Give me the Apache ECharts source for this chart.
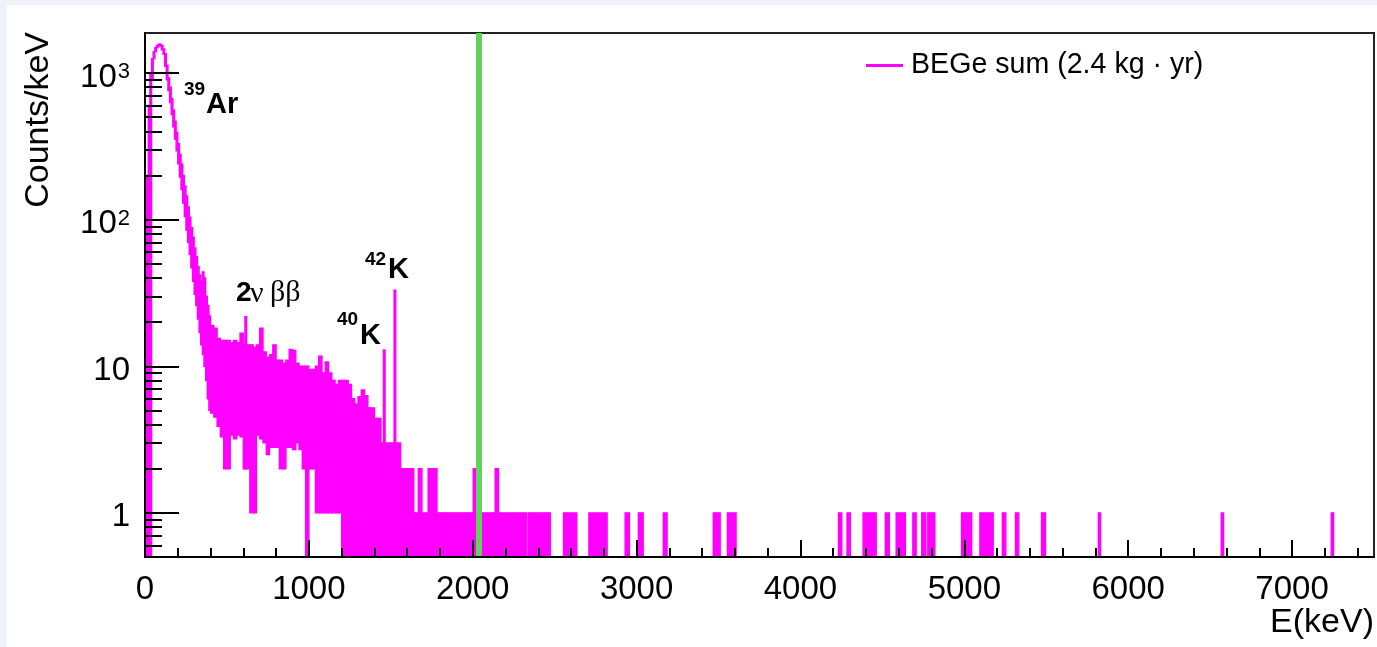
<!DOCTYPE html>
<html>
<head>
<meta charset="utf-8">
<script src="https://cdn.jsdelivr.net/npm/echarts@6/dist/echarts.min.js"></script>
<style>
html,body{margin:0;padding:0;background:#eef3fb;}
#c{width:1377px;height:647px;}
</style>
</head>
<body>
<div id="c"></div>
<script>
// ---------------- data ----------------
const seriesName = 'BEGe sum (2.4 kg \u00b7 yr)';
// Dense part of the spectrum: for every energy slice [edge_i, edge_i+1] (keV)
// the largest and smallest bin content (counts/keV) seen in the figure.
const sliceEdges = [0,10,20,30,40,50,60,70,80,90,100,110,120,130,140,150,160,170,180,190,200,
  210,220,230,240,250,260,270,280,290,300,310,320,330,340,350,360,370,380,390,400,
  420,440,460,480,500,520,540,560,580,600,610,620,640,660,680,700,720,740,760,780,800,
  820,840,860,880,900,920,940,960,980,1000,1020,1040,1060,1080,1100,1120,1140,1160,1180,1200,
  1220,1240,1260,1280,1300,1320,1340,1360,1380,1400,1420,1440,1455,1465,1520,1530,1560,
  1640,1668,1690,1728,1782,2003,2023,2127];
const sliceMax = [0,200,600,1000,1250,1400,1490,1545,1570,1570,1540,1460,1360,1130,930,800,670,560,470,395,
  330,280,240,200,170,145,122,104,88,76,64,56,48,42,38,44,40,30,26,22,
  19,18.2,15.5,15,15,15,14.5,15,14.5,16.8,14,21.8,14,14,13.5,14,18.2,12.5,11.5,12,14,
  11,11,10.5,11,13,12.8,10.5,10,10,10,9.5,9.5,10,11.7,9,10.7,9,8,7.5,8,
  8,8,7.5,6,5.5,6.2,6.9,6.3,5.2,5.2,4.4,4.4,3,12.9,3,33,3,
  2,1,2,1,2,1,2,1];
const sliceMin = [0,0,0,0,900,1250,1400,1490,1535,1530,1440,1340,1110,900,760,630,520,430,355,295,
  240,195,160,130,105,85,70,58,47,38,31,26,21,17,14,12,10,8,6,5,
  4.8,4.5,3.9,3.3,2,2,3.4,3.2,3.4,3.3,2,2,2,1,1,3.4,3.2,3,2.5,2.8,2.8,
  2.8,2,2,2.8,2.8,2.7,3,2.7,2,0,2,2,1,1,1,1,1,1,1,1,
  0,0,0,0,0,0,0,0,0,0,0,0,0,0,0,0,0,
  0,0,0,0,0,0,0,0];
// Sparse part: groups of non-empty bins [start, end] (keV) and their content
const groupStart = [2127,2137,2157,2236,2305,2340,2405,2554,2709,2930,3011,3163,3468,3554,
  4232,4284,4382,4518,4584,4686,4740,4777,4983,5095,5232,5312,5471,5818,6568,7239];
const groupEnd   = [2137,2157,2230,2300,2330,2400,2473,2635,2820,2956,3040,3186,3510,3607,
  4252,4304,4462,4542,4640,4706,4765,4820,5045,5176,5253,5332,5495,5831,6582,7253];
const groupMax   = [1,2,1,1,1,1,1,1,1,1,1,1,1,1,
  1,1,1,1,1,1,1,1,1,1,1,1,1,1,1,1];
const qbb = 2039;                       // Q_bb of 76Ge (green line)
const xTickValues = [0,1000,2000,3000,4000,5000,6000,7000];
const xTickLabels = ['0','1000','2000','3000','4000','5000','6000','7000'];
const xMinorTicks = [];
for (let e = 200; e < 7500; e += 200) if (e % 1000) xMinorTicks.push(e);
const yTickValues = [1,10,100,1000];
const yTickLabels = ['1','10','10{sup|2}','10{sup|3}'];
const yMinorTicks = [0.6,0.7,0.8,0.9,2,3,4,5,6,7,8,9,20,30,40,50,60,70,80,90,200,300,400,500,600,700,800,900];

// ---------------- chart ----------------
const X_MIN = 0, X_MAX = 7500, Y_MIN = 0.5, Y_MAX = 1875;
const MAGENTA = '#ff00ff', GREEN = '#62d35a';
const FONT = '"Liberation Sans", Arial, Helvetica, sans-serif';
const SERIF = '"Liberation Serif", "Times New Roman", serif';

const rows = [[X_MIN, X_MAX, 0, 0]];   // empty bins lie on the frame bottom
for (let i = 0; i < sliceMax.length; i++) rows.push([sliceEdges[i], sliceEdges[i+1], sliceMin[i], sliceMax[i]]);
for (let i = 0; i < groupStart.length; i++) rows.push([groupStart[i], groupEnd[i], 0, groupMax[i]]);

function renderItem(params, api) {
  const lo = Math.max(api.value(2), Y_MIN), hi = Math.max(api.value(3), Y_MIN);
  const p0 = api.coord([api.value(0), hi]);
  const p1 = api.coord([api.value(1), lo]);
  let x = p0[0], w = p1[0] - p0[0];
  if (w < 1.5) { x -= (1.5 - w) / 2; w = 1.5; }
  return {type: 'rect', shape: {x: x, y: p0[1], width: w, height: p1[1] - p0[1]},
          style: {fill: MAGENTA, stroke: MAGENTA, lineWidth: 1.4}};
}

const chart = echarts.init(document.getElementById('c'), null, {renderer: 'canvas'});
const txt = (t, x, y, size, bold, fam) => ({type: 'text', x: x, y: y, z: 50,
  style: {text: t, font: (bold ? 'bold ' : '') + size + 'px ' + (fam || FONT), fill: '#000', align: 'left', verticalAlign: 'middle'}});

chart.setOption({
  backgroundColor: '#eef3fb',
  animation: false,
  grid: {left: 145, top: 33, right: 2, bottom: 90, show: true, borderColor: '#222', borderWidth: 2, backgroundColor: 'transparent'},
  legend: {
    data: [{name: seriesName, icon: 'rect'}],
    left: 866, top: 51, padding: 0, itemWidth: 37, itemHeight: 3,
    itemStyle: {color: MAGENTA},
    textStyle: {fontSize: 28.6, fontFamily: FONT, color: '#000', padding: [0, 0, 8, 3]}
  },
  xAxis: [{
    type: 'value', min: X_MIN, max: X_MAX, z: 5,
    name: 'E(keV)', nameLocation: 'end', nameGap: 0,
    nameTextStyle: {fontSize: 34, fontFamily: FONT, color: '#000', align: 'right', verticalAlign: 'top', padding: [49, 0, 0, 0]},
    axisLine: {show: true, onZero: false, lineStyle: {color: '#000', width: 2}},
    axisTick: {show: true, inside: true, length: 17, customValues: xTickValues, lineStyle: {color: '#000', width: 2}},
    axisLabel: {show: true, customValues: xTickValues, color: '#000', fontSize: 33, fontFamily: FONT, margin: 16,
      formatter: v => xTickLabels[xTickValues.indexOf(Math.round(v))] || ''},
    splitLine: {show: false}
  }, {
    type: 'value', min: X_MIN, max: X_MAX, position: 'bottom', z: 5,
    axisLine: {show: false},
    axisTick: {show: true, inside: true, length: 9, customValues: xMinorTicks, lineStyle: {color: '#000', width: 2}},
    axisLabel: {show: false}, splitLine: {show: false}
  }],
  yAxis: [{
    type: 'log', logBase: 10, min: Y_MIN, max: Y_MAX, z: 5,
    axisLine: {show: true, onZero: false, lineStyle: {color: '#000', width: 2}},
    axisTick: {show: true, inside: true, length: 34, customValues: yTickValues, lineStyle: {color: '#000', width: 2}},
    axisLabel: {show: true, customValues: yTickValues, color: '#000', fontSize: 33, fontFamily: FONT, margin: 15,
      padding: [9, 0, 0, 0],
      formatter: v => yTickLabels[yTickValues.indexOf(Math.round(v))] || '',
      rich: {sup: {fontSize: 22, fontFamily: FONT, color: '#000', verticalAlign: 'top', padding: [0, 0, 0, 1]}}},
    splitLine: {show: false}
  }, {
    type: 'log', logBase: 10, min: Y_MIN, max: Y_MAX, position: 'left', z: 5,
    axisLine: {show: false},
    axisTick: {show: true, inside: true, length: 17, customValues: yMinorTicks, lineStyle: {color: '#000', width: 2}},
    axisLabel: {show: false}, splitLine: {show: false}
  }],
  graphic: [
    {type: 'rect', shape: {x: 7, y: 5, width: 1370, height: 642}, style: {fill: '#ffffff'}, z: -10, silent: true},
    {type: 'text', x: 39, y: 32, rotation: Math.PI / 2, z: 50,
     style: {text: 'Counts/keV', font: '34px ' + FONT, fill: '#000', align: 'right', verticalAlign: 'middle'}},
    txt('39', 184, 90, 19, true), txt('Ar', 206, 104.5, 29, true),
    txt('2', 236, 293, 28, true), txt('\u03bd', 250, 294, 30, false, SERIF), txt('\u03b2\u03b2', 270, 293, 30, false, SERIF),
    txt('40', 337, 320, 19, true), txt('K', 360, 336, 29, true),
    txt('42', 365, 260, 19, true), txt('K', 388, 270, 29, true)
  ],
  series: [{
    name: seriesName, type: 'custom', renderItem: renderItem, clip: false, z: 3,
    xAxisIndex: 0, yAxisIndex: 0,
    itemStyle: {color: MAGENTA},
    encode: {x: [0, 1], y: [2, 3]},
    data: rows
  }, {
    name: 'Qbb', type: 'line', xAxisIndex: 0, yAxisIndex: 0, data: [], z: 4,
    markLine: {silent: true, symbol: ['none', 'none'], label: {show: false},
      lineStyle: {color: GREEN, width: 6, type: 'solid'}, data: [{xAxis: qbb}]}
  }]
});
</script>
</body>
</html>
